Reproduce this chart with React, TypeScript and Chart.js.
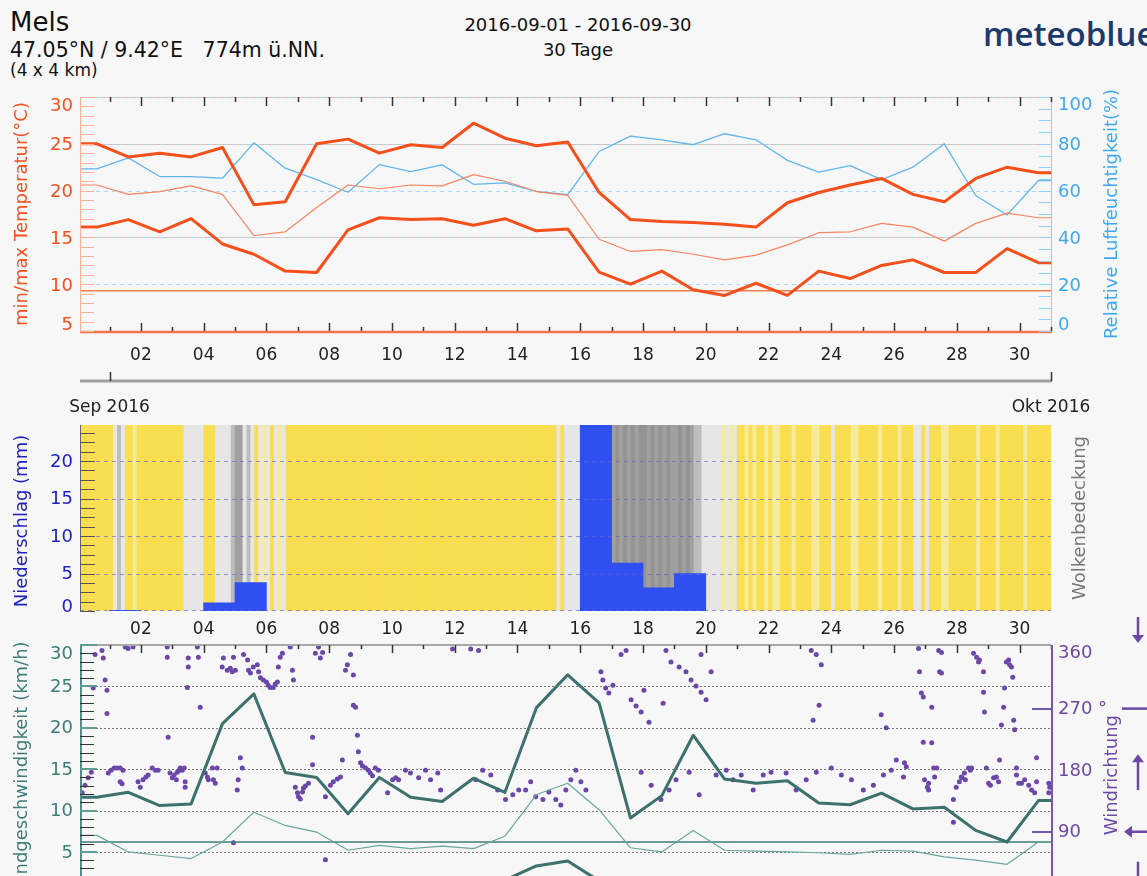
import React, { useEffect, useRef } from "react";
import { Chart, registerables } from "chart.js";

Chart.register(...registerables);

const FONT = "'DejaVu Sans', sans-serif";
const X_MIN = -0.94;
const X_MAX = 30;
const PLOT_LEFT = 80;
const PLOT_RIGHT = 1051;
const WIDTH = 1147;
const PX_PER_DAY = (PLOT_RIGHT - PLOT_LEFT) / (X_MAX - X_MIN);

// ---------- time axis (days since 2016-09-01 00:00) ----------
const dayTickValues = [0, 1, 2, 3, 4, 5, 6, 7, 8, 9, 10, 11, 12, 13, 14, 15, 16, 17, 18, 19, 20, 21, 22, 23, 24, 25, 26, 27, 28, 29, 30];
const dayLabelValues = [1, 3, 5, 7, 9, 11, 13, 15, 17, 19, 21, 23, 25, 27, 29];
const dayLabels = ["02", "04", "06", "08", "10", "12", "14", "16", "18", "20", "22", "24", "26", "28", "30"];
const dailyTimes = [-0.4, 0.6, 1.6, 2.6, 3.6, 4.6, 5.6, 6.6, 7.6, 8.6, 9.6, 10.6, 11.6, 12.6, 13.6, 14.6, 15.6, 16.6, 17.6, 18.6, 19.6, 20.6, 21.6, 22.6, 23.6, 24.6, 25.6, 26.6, 27.6, 28.6, 29.6];

// ---------- temperature / humidity ----------
const tempMax = [25.0, 23.6, 24.0, 23.6, 24.6, 18.5, 18.8, 25.0, 25.5, 24.0, 24.9, 24.6, 27.2, 25.6, 24.8, 25.2, 19.8, 16.9, 16.7, 16.6, 16.4, 16.1, 18.7, 19.8, 20.6, 21.3, 19.6, 18.8, 21.3, 22.5, 21.9];
const tempMean = [20.6, 19.6, 19.9, 20.5, 19.6, 15.2, 15.6, 18.2, 20.6, 20.2, 20.6, 20.5, 21.7, 21.0, 19.9, 19.5, 14.8, 13.5, 13.7, 13.2, 12.6, 13.1, 14.2, 15.5, 15.6, 16.5, 16.1, 14.6, 16.5, 17.6, 17.1];
const tempMin = [16.1, 16.9, 15.6, 17.0, 14.3, 13.2, 11.4, 11.25, 15.8, 17.1, 16.9, 17.0, 16.3, 17.0, 15.7, 15.9, 11.3, 10.0, 11.4, 9.4, 8.8, 10.1, 8.8, 11.4, 10.6, 12.0, 12.6, 11.25, 11.25, 13.8, 12.3];
const humidity = [69.3, 74.0, 66.0, 66.0, 65.3, 80.4, 69.6, 64.7, 59.3, 71.1, 68.1, 71.0, 62.7, 63.3, 59.7, 58.3, 76.7, 83.3, 81.7, 79.6, 84.3, 81.7, 72.9, 67.9, 70.7, 64.7, 70.0, 80.0, 57.9, 49.6, 64.3];
const tempRefLevel = 9.3;
const tempTickLabels = [5, 10, 15, 20, 25, 30];
const tempGridValues = [15, 25, 30];
const humTickLabels = [0, 20, 40, 60, 80, 100];
const humGridValues = [20, 40, 60, 80, 100];

// ---------- precipitation / cloud cover ----------
const precipDays = [1, 4, 5, 16, 17, 18, 19];
const precipMm = [0.1, 1.1, 3.8, 26, 6.4, 3.1, 5.0];
const precipTickLabels = [0, 5, 10, 15, 20];
// cloud class per 3 hours, one string per day from Aug 31 to Sep 30
const cloudCover3h = [
  "00000000", "02320010", "00000000", "00022222", "00022223", "44232021", "20212000",
  "00000000", "00000000", "00000000", "00000000", "00000000", "00000000", "00000000",
  "00000000", "00202222", "24444444", "45454545", "54545454", "45454332", "22221212",
  "00101001", "01100010", "00011000", "20000110", "00001000", "01000220", "20001100",
  "00000100", "00100000", "01000000",
];
const cloudColors = ["#f8de50", "#f6ea9c", "#e6e6e6", "#bdbdbd", "#a0a0a0", "#939393"];

// ---------- wind ----------
const windMax = [11.6, 12.2, 10.6, 10.8, 20.5, 24.1, 14.6, 14.0, 9.6, 14.0, 11.6, 11.1, 13.9, 12.2, 22.4, 26.4, 23.0, 9.1, 11.8, 19.1, 13.8, 13.3, 13.6, 10.9, 10.7, 12.1, 10.2, 10.4, 7.6, 6.2, 11.2];
const windMean = [7.0, 5.0, 4.6, 4.2, 6.2, 9.8, 8.2, 7.4, 5.2, 5.8, 5.4, 5.7, 5.4, 6.9, 11.9, 13.3, 10.1, 5.5, 5.0, 7.6, 5.2, 5.1, 5.0, 4.9, 4.7, 5.2, 5.1, 4.4, 4.0, 3.5, 6.2];
const windMin = [1.2, 1.0, 0.8, 0.9, 1.5, 1.5, 1.4, 1.3, 0.9, 1.2, 1.0, 1.1, 1.3, 1.6, 3.3, 3.9, 1.5, 1.0, 1.2, 1.5, 1.2, 1.1, 1.0, 0.9, 1.0, 1.1, 1.0, 0.9, 0.8, 0.7, 1.2];
const windRefLevel = 6.2;
const windTickLabels = [5, 10, 15, 20, 25, 30];
const windGridValues = [5, 10, 15, 20, 25];
const dirTickLabels = [90, 180, 270, 360];

const windDirTime = [
  -0.87, -0.78, -0.68, -0.58, -0.52, -0.46, -0.24, -0.2, -0.14, -0.08, -0.08, -0.04, 0.05, 0.15, 0.24, 0.34, 0.43, 0.34, 0.4, 0.5, 0.59, 0.75,
  0.91, 0.98, 1.07, 1.16, 1.23, 1.36, 1.46, 1.55, 1.84, 1.84, 1.87, 1.93, 2.0, 2.06, 2.13, 2.16, 2.22, 2.25, 2.32, 2.38, 2.41, 2.41, 2.48, 2.51, 2.51,
  2.8, 2.83, 2.89, 3.05, 3.12, 3.15, 3.28, 3.31, 3.37, 3.43, 3.59, 3.63, 3.75, 3.85, 3.91, 3.95, 4.01, 3.95, 4.07, 4.1, 4.17, 4.23, 4.27, 4.4, 4.43,
  4.49, 4.58, 4.71, 4.75, 4.81, 4.9, 5.0, 5.06, 5.12, 5.22, 5.28, 5.35, 5.38, 5.44, 5.51, 5.76, 5.83, 5.86, 5.92, 5.99, 6.02, 6.08, 6.15, 6.18, 6.24,
  6.34, 6.47, 6.47, 6.56, 6.66, 6.72, 6.79, 6.88, 6.88, 7.04, 7.13, 7.26, 7.36, 7.42, 7.52, 7.58, 7.68, 7.77, 7.77, 7.84, 7.9, 7.93, 8.0, 8.06, 8.16,
  8.25, 8.31, 8.38, 8.47, 8.57, 8.86, 9.02, 9.12, 9.21,
  9.43, 9.59, 9.85, 10.07, 10.23, 10.46, 10.55, 10.93, 11.51, 11.76, 11.67, 11.89, 12.15, 12.37, 12.62, 12.85, 13.04, 13.26, 13.42, 13.58, 13.81,
  14.0, 14.22, 14.38, 14.54, 14.7, 14.86, 15.02, 15.18, 15.66, 15.72, 15.81, 15.91, 16.04, 16.3, 16.46, 16.62, 16.78, 16.94, 17.03, 17.19, 17.64,
  17.73, 17.89, 18.15, 18.37, 18.53, 18.69, 18.85, 19.01, 19.17, 18.85, 16.94, 17.26, 17.57, 17.83, 18.05, 18.47, 18.79, 19.33, 19.65, 19.87, 20.13,
  20.51, 20.83, 21.08, 21.56, 21.88, 22.36, 22.52, 22.68, 22.42, 22.61, 22.2, 22.52, 23.0, 23.32, 23.64, 24.02, 24.34, 24.66, 24.91, 25.07, 24.59, 24.75,
  25.33, 25.39, 25.3, 25.78, 25.81, 25.87, 25.93, 25.93, 25.97, 26.1, 26.06, 26.1, 26.2, 26.2, 26.26, 26.36, 26.29, 26.42, 26.51, 26.45, 26.51,
  26.89, 26.89, 26.98, 27.08, 27.14, 27.24, 27.37, 27.17, 27.27, 27.43, 27.47, 27.53, 27.63, 27.72, 27.69, 27.85, 27.85, 27.88, 27.94, 28.01, 28.07,
  28.17, 28.26, 28.33, 28.42, 28.49, 28.52, 28.58, 28.65, 28.68, 28.74, 28.78, 28.81, 28.84, 28.36, 28.9, 28.9, 28.97, 29.06, 29.16, 29.29, 29.38,
  29.48, 29.54, 29.54, 29.93, 29.96, 29.93,
];
const windDirDeg = [
  147, 158, 169, 177, 300, 349, 355, 344, 312, 297, 263, 176, 180, 183, 183, 183, 180, 163, 160, 360, 358, 360,
  163, 155, 166, 170, 173, 183, 180, 180, 360, 345, 228, 176, 169, 173, 166, 177, 180, 183, 180, 183, 163, 155, 301, 331, 344,
  360, 345, 272, 176, 170, 166, 183, 166, 161, 183, 331, 344, 326, 329, 324, 345, 326, 74, 151, 166, 198, 183, 349, 341, 326,
  322, 331, 334, 324, 315, 312, 309, 304, 301, 301, 306, 309, 331, 345, 351, 360, 326, 312, 155, 147, 141, 138, 148, 154, 157,
  161, 188, 228, 351, 360, 344, 352, 141, 49, 158, 163, 167, 170, 195, 326, 334, 349, 319, 275, 272, 231, 207, 191, 186, 183,
  180, 176, 172, 183, 180, 147, 166, 169, 166,
  180, 176, 169, 180, 166, 176, 151, 357, 357, 355, 166, 180, 173, 151, 137, 144, 151, 151, 163, 141, 137,
  148, 137, 129, 151, 166, 180, 163, 151, 324, 312, 300, 293, 304, 349, 355, 283, 274, 265, 297, 250, 278,
  355, 338, 331, 324, 312, 303, 294, 283, 324, 349, 177, 158, 137, 151, 166, 177, 144, 173, 180, 166, 173,
  151, 173, 177, 176, 151, 355, 349, 334, 253, 275, 166, 177, 183, 173, 166, 151, 158, 173, 180, 195, 261, 242,
  191, 185, 170, 358, 324, 293, 221, 287, 166, 161, 155, 151, 272, 220, 183, 183, 170, 355, 352, 324, 322,
  137, 104, 155, 163, 170, 176, 183, 169, 166, 180, 183, 351, 345, 341, 338, 324, 294, 265, 183, 161, 158,
  169, 170, 163, 246, 272, 300, 338, 341, 334, 331, 316, 253, 239, 195, 183, 173, 161, 161, 166, 158, 151,
  147, 163, 198, 161, 155, 147,
];

// ---------- helpers ----------
function range(a: number, b: number, step: number): number[] {
  const out: number[] = [];
  for (let v = a; v <= b + 1e-9; v += step) out.push(Math.round(v * 1000) / 1000);
  return out;
}

function series(times: number[], values: number[]) {
  const pts = times.map((t, i) => ({ x: t, y: values[i] }));
  return [{ x: X_MIN, y: values[0] }, ...pts, { x: X_MAX, y: values[values.length - 1] }];
}

function fixBox(width?: number, height?: number) {
  return (s: any) => {
    if (width !== undefined) s.width = width;
    if (height !== undefined) s.height = height;
    s.paddingLeft = 0;
    s.paddingRight = 0;
    s.paddingTop = 0;
    s.paddingBottom = 0;
  };
}

function xAxis(height: number) {
  return {
    type: "linear",
    axis: "x",
    position: "bottom",
    min: X_MIN,
    max: X_MAX,
    offset: false,
    grid: { display: false, offset: false },
    border: { display: false },
    ticks: { display: false },
    afterFit: fixBox(undefined, height),
  };
}

function yAxis(position: string, min: number, max: number, width: number) {
  return {
    type: "linear",
    axis: "y",
    position,
    min,
    max,
    grid: { display: false },
    border: { display: false },
    ticks: { display: false },
    afterFit: fixBox(width, undefined),
  };
}

function hLine(ctx: CanvasRenderingContext2D, x1: number, x2: number, y: number) {
  ctx.beginPath();
  ctx.moveTo(x1, y);
  ctx.lineTo(x2, y);
  ctx.stroke();
}

function vLine(ctx: CanvasRenderingContext2D, x: number, y1: number, y2: number) {
  ctx.beginPath();
  ctx.moveTo(x, y1);
  ctx.lineTo(x, y2);
  ctx.stroke();
}

function txt(
  ctx: CanvasRenderingContext2D,
  s: string,
  x: number,
  y: number,
  size: number,
  color: string,
  align: CanvasTextAlign = "center",
  rotate = 0
) {
  ctx.save();
  ctx.translate(x, y);
  if (rotate) ctx.rotate(rotate);
  ctx.font = `${size}px ${FONT}`;
  ctx.fillStyle = color;
  ctx.textAlign = align;
  ctx.textBaseline = "middle";
  ctx.fillText(s, 0, 0);
  ctx.restore();
}

const snap = (v: number) => Math.round(v) + 0.5;

function dayTicks(ctx: CanvasRenderingContext2D, xs: any, y: number, dir: number, major: number, minor: number) {
  for (const v of dayTickValues) {
    const px = snap(xs.getPixelForValue(v));
    vLine(ctx, px, y, y + dir * (v % 2 === 1 ? major : minor));
  }
}

function dayLabelRow(ctx: CanvasRenderingContext2D, xs: any, y: number) {
  dayLabelValues.forEach((v, i) => txt(ctx, dayLabels[i], xs.getPixelForValue(v), y, 17, "#222"));
}

// ---------- plugins ----------
const topDecor = {
  id: "topDecor",
  beforeDatasetsDraw(chart: any) {
    const { ctx, chartArea: a, scales } = chart;
    ctx.save();
    ctx.lineWidth = 1;
    ctx.setLineDash([4, 4]);
    ctx.strokeStyle = "#a8d8f7";
    for (const v of humGridValues) hLine(ctx, a.left, a.right, snap(scales.yH.getPixelForValue(v)));
    ctx.lineDashOffset = 4;
    ctx.strokeStyle = "#f9b59b";
    for (const v of tempGridValues) hLine(ctx, a.left, a.right, snap(scales.yT.getPixelForValue(v)));
    ctx.restore();
  },
  afterDatasetsDraw(chart: any) {
    const { ctx, chartArea: a, scales } = chart;
    const xs = scales.x, yT = scales.yT, yH = scales.yH;
    ctx.save();
    ctx.lineWidth = 1;
    ctx.strokeStyle = "#f8b29a";
    vLine(ctx, snap(a.left), a.top, a.bottom);
    ctx.strokeStyle = "#8fcdf5";
    vLine(ctx, snap(a.right), a.top, a.bottom);
    ctx.lineWidth = 2.5;
    ctx.strokeStyle = "#f7734a";
    hLine(ctx, a.left, a.right + 1, a.bottom + 1);
    ctx.lineWidth = 1;
    ctx.strokeStyle = "#f8b29a";
    for (const v of range(5, 30, 1)) hLine(ctx, a.left, a.left + 14, snap(yT.getPixelForValue(v)));
    ctx.strokeStyle = "#92cff5";
    for (const v of range(0, 100, 5)) hLine(ctx, a.right - 12, a.right, snap(yH.getPixelForValue(v)));
    ctx.strokeStyle = "#333";
    ctx.lineWidth = 1.5;
    dayTicks(ctx, xs, a.top, 1, 9, 5);
    dayTicks(ctx, xs, a.bottom, -1, 8, 4);
    for (const v of tempTickLabels) {
      const off = v === 30 ? 9 : v === 5 ? -6 : 2;
      txt(ctx, String(v), 73, yT.getPixelForValue(v) + off, 18, "#f4511e", "right");
    }
    for (const v of humTickLabels) {
      const off = v === 100 ? 8 : v === 0 ? -6 : 2;
      txt(ctx, String(v), 1058, yH.getPixelForValue(v) + off, 18, "#3fa9f0", "left");
    }
    const midY = (a.top + a.bottom) / 2;
    txt(ctx, "min/max Temperatur(°C)", 22, midY, 18, "#f4511e", "center", -Math.PI / 2);
    txt(ctx, "Relative Luftfeuchtigkeit(%)", 1112, midY, 18, "#3fa9f0", "center", -Math.PI / 2);
    dayLabelRow(ctx, xs, a.bottom + 25);
    const x0 = xs.getPixelForValue(0);
    const x1 = xs.getPixelForValue(30);
    ctx.strokeStyle = "#a0a0a0";
    ctx.lineWidth = 3;
    hLine(ctx, a.left, x1 + 1, a.bottom + 50);
    ctx.strokeStyle = "#333";
    ctx.lineWidth = 1.5;
    vLine(ctx, snap(x0), a.bottom + 41, a.bottom + 50);
    vLine(ctx, snap(x1), a.bottom + 41, a.bottom + 50);
    txt(ctx, "Sep 2016", x0, a.bottom + 77, 17, "#222");
    txt(ctx, "Okt 2016", x1, a.bottom + 77, 17, "#222");
    ctx.restore();
  },
};

const midDecor = {
  id: "midDecor",
  afterDatasetsDraw(chart: any) {
    const { ctx, chartArea: a, scales } = chart;
    const xs = scales.x, yP = scales.yP;
    ctx.save();
    ctx.lineWidth = 1;
    ctx.setLineDash([4, 4]);
    ctx.strokeStyle = "rgba(100,100,210,0.65)";
    for (const v of precipTickLabels) hLine(ctx, a.left, a.right, snap(yP.getPixelForValue(v)) - (v === 0 ? 1 : 0));
    ctx.setLineDash([]);
    ctx.strokeStyle = "#666";
    vLine(ctx, snap(a.left), a.top, a.bottom);
    ctx.strokeStyle = "#555";
    for (const v of range(0, 23.75, 1.25)) hLine(ctx, a.left, a.left + 15, snap(yP.getPixelForValue(v)));
    for (const v of precipTickLabels) {
      const off = v === 0 ? -4 : 1;
      txt(ctx, String(v), 73, yP.getPixelForValue(v) + off, 18, "#2222c0", "right");
    }
    const midY = (a.top + a.bottom) / 2;
    txt(ctx, "Niederschlag (mm)", 22, midY + 3, 18, "#2222c0", "center", -Math.PI / 2);
    txt(ctx, "Wolkenbedeckung", 1080, midY, 18, "#777", "center", -Math.PI / 2);
    dayLabelRow(ctx, xs, a.bottom + 19);
    ctx.restore();
  },
};

function arrowHead(ctx: CanvasRenderingContext2D, x: number, y: number, dx: number, dy: number) {
  ctx.beginPath();
  ctx.moveTo(x, y);
  ctx.lineTo(x - dx * 8 - dy * 6, y - dy * 8 - dx * 6);
  ctx.lineTo(x - dx * 8 + dy * 6, y - dy * 8 + dx * 6);
  ctx.closePath();
  ctx.fill();
}

const windDecor = {
  id: "windDecor",
  beforeDatasetsDraw(chart: any) {
    const { ctx, chartArea: a, scales } = chart;
    ctx.save();
    ctx.lineWidth = 1;
    ctx.setLineDash([2, 2]);
    ctx.strokeStyle = "#777";
    for (const v of windGridValues) hLine(ctx, a.left, a.right, snap(scales.yS.getPixelForValue(v)));
    ctx.restore();
  },
  afterDatasetsDraw(chart: any) {
    const { ctx, chartArea: a, scales } = chart;
    const xs = scales.x, yS = scales.yS, yD = scales.yD;
    ctx.save();
    ctx.strokeStyle = "#a8a8a8";
    ctx.lineWidth = 2;
    hLine(ctx, a.left, a.right, a.top);
    ctx.strokeStyle = "#333";
    ctx.lineWidth = 1.5;
    dayTicks(ctx, xs, a.top, 1, 8, 4);
    ctx.strokeStyle = "#4f8f8a";
    ctx.lineWidth = 2;
    vLine(ctx, a.left + 1, a.top, a.bottom);
    ctx.lineWidth = 1;
    ctx.strokeStyle = "#333";
    for (const v of range(1, 29, 1)) if (v % 5 !== 0) hLine(ctx, a.left, a.left + 14, snap(yS.getPixelForValue(v)));
    ctx.strokeStyle = "#5f9d97";
    ctx.lineWidth = 2;
    for (const v of range(5, 30, 5)) hLine(ctx, a.left, a.left + 17, Math.round(yS.getPixelForValue(v)));
    for (const v of windTickLabels) {
      const off = v === 30 ? 9 : 1;
      txt(ctx, String(v), 73, yS.getPixelForValue(v) + off, 18, "#3d7d78", "right");
    }
    const midY = (a.top + a.bottom) / 2;
    txt(ctx, "Windgeschwindigkeit (km/h)", 22, midY, 18, "#3d7d78", "center", -Math.PI / 2);
    ctx.strokeStyle = "#7657ad";
    ctx.lineWidth = 2;
    vLine(ctx, a.right + 1, a.top, a.bottom);
    for (const v of [90, 270]) hLine(ctx, a.right - 19, a.right + 1, Math.round(yD.getPixelForValue(v)));
    for (const v of dirTickLabels) {
      const off = v === 360 ? 6 : 1;
      txt(ctx, v === 270 ? "270 °" : String(v), 1058, yD.getPixelForValue(v) + off, 18, "#6a4aa5", "left");
    }
    txt(ctx, "Windrichtung", 1112, midY + 6, 18, "#6a4aa5", "center", -Math.PI / 2);
    ctx.strokeStyle = "#6a4aa5";
    ctx.fillStyle = "#6a4aa5";
    ctx.lineWidth = 2.5;
    const ax = 1138;
    const y270 = yD.getPixelForValue(270);
    hLine(ctx, 1122, 1150, y270);
    const y90 = yD.getPixelForValue(90);
    hLine(ctx, 1130, 1150, y90);
    arrowHead(ctx, 1124, y90, -1, 0);
    const y180 = yD.getPixelForValue(180);
    vLine(ctx, ax, y180 - 10, y180 + 20);
    arrowHead(ctx, ax, y180 - 16, 0, -1);
    const y360 = yD.getPixelForValue(360);
    vLine(ctx, ax, y360 - 30, y360 - 8);
    arrowHead(ctx, ax, y360 - 4, 0, 1);
    vLine(ctx, ax, y90 + 30, y90 + 60);
    ctx.restore();
  },
};

// ---------- component ----------
function useChart(ref: React.RefObject<HTMLCanvasElement>, build: () => any) {
  useEffect(() => {
    if (!ref.current) return;
    const chart = new Chart(ref.current, build());
    return () => chart.destroy();
  }, []);
}

const baseOptions = (padTop: number) => ({
  responsive: false,
  maintainAspectRatio: false,
  animation: false,
  events: [],
  layout: { padding: { top: padTop, left: 0, right: 0, bottom: 0 } },
  plugins: { legend: { display: false }, tooltip: { enabled: false } },
  elements: {
    point: { radius: 0 },
    line: { tension: 0, borderJoinStyle: "round", borderCapStyle: "butt" },
  },
});

export default function App() {
  const topRef = useRef<HTMLCanvasElement>(null);
  const midRef = useRef<HTMLCanvasElement>(null);
  const windRef = useRef<HTMLCanvasElement>(null);

  useEffect(() => {
    document.body.style.margin = "0";
    document.body.style.background = "#f7f7f7";
    document.documentElement.style.overflow = "hidden";
  }, []);

  useChart(topRef, () => ({
    type: "line",
    data: {
      datasets: [
        { label: "max", data: series(dailyTimes, tempMax), yAxisID: "yT", borderColor: "#f4501c", borderWidth: 3, order: 1 },
        { label: "min", data: series(dailyTimes, tempMin), yAxisID: "yT", borderColor: "#f4501c", borderWidth: 3, order: 2 },
        { label: "mean", data: series(dailyTimes, tempMean), yAxisID: "yT", borderColor: "#f78660", borderWidth: 1.2, order: 3 },
        { label: "humidity", data: series(dailyTimes, humidity), yAxisID: "yH", borderColor: "#62b6ee", borderWidth: 1.3, order: 4 },
        { label: "ref", data: [{ x: X_MIN, y: tempRefLevel }, { x: X_MAX, y: tempRefLevel }], yAxisID: "yT", borderColor: "#f57d52", borderWidth: 1.5, order: 5 },
      ],
    },
    options: {
      ...baseOptions(7),
      scales: { x: xAxis(89), yT: yAxis("left", 5, 30, 80), yH: yAxis("right", 0, 100, 96) },
    },
    plugins: [topDecor],
  }));

  useChart(midRef, () => {
    const cloudData: any[] = [];
    const cloudCols: string[] = [];
    cloudCover3h.forEach((day, d) => {
      day.split("").forEach((c, j) => {
        cloudData.push({ x: d - 1 + (j + 0.5) / 8, y: [0, 30] });
        cloudCols.push(cloudColors[Number(c)]);
      });
    });
    return {
      type: "bar",
      data: {
        datasets: [
          {
            label: "Niederschlag",
            data: precipDays.map((d, i) => ({ x: d - 0.5, y: precipMm[i] })),
            yAxisID: "yP",
            backgroundColor: "#2f4ff0",
            barThickness: PX_PER_DAY,
            grouped: false,
            borderWidth: 0,
            order: 1,
          },
          {
            label: "Wolkenbedeckung",
            data: cloudData,
            yAxisID: "yP",
            backgroundColor: cloudCols,
            barThickness: PX_PER_DAY / 8,
            grouped: false,
            borderWidth: 0,
            order: 2,
          },
        ],
      },
      options: {
        ...baseOptions(5),
        scales: { x: xAxis(34), yP: yAxis("left", 0, 24.8, 80), yC: yAxis("right", 0, 100, 96) },
      },
      plugins: [midDecor],
    };
  });

  useChart(windRef, () => ({
    type: "line",
    data: {
      datasets: [
        { label: "max", data: series(dailyTimes, windMax), yAxisID: "yS", borderColor: "#3d716c", borderWidth: 3, order: 1 },
        { label: "min", data: series(dailyTimes, windMin), yAxisID: "yS", borderColor: "#3d716c", borderWidth: 3, order: 2 },
        { label: "mean", data: series(dailyTimes, windMean), yAxisID: "yS", borderColor: "#6aa69e", borderWidth: 1.2, order: 3 },
        { label: "ref", data: [{ x: X_MIN, y: windRefLevel }, { x: X_MAX, y: windRefLevel }], yAxisID: "yS", borderColor: "#3f7c76", borderWidth: 1.5, order: 4 },
        {
          label: "Windrichtung",
          data: windDirTime.map((t, i) => ({ x: t, y: windDirDeg[i] })),
          yAxisID: "yD",
          showLine: false,
          pointRadius: 2.5,
          pointBackgroundColor: "#6b48a8",
          pointBorderWidth: 0,
          order: 10,
        },
      ],
    },
    options: {
      ...baseOptions(30),
      scales: { x: xAxis(26.7), yS: yAxis("left", 0, 30, 80), yD: yAxis("right", 0, 363, 96) },
    },
    plugins: [windDecor],
  }));

  const abs = (top: number): React.CSSProperties => ({ position: "absolute", left: 0, top });

  return (
    <div style={{ position: "absolute", left: 0, top: 0, width: WIDTH, height: 876, overflow: "hidden", background: "#f7f7f7", fontFamily: FONT, color: "#111" }}>
      <div style={{ position: "absolute", left: 10, top: 9, fontSize: 26, lineHeight: 1 }}>Mels</div>
      <div style={{ position: "absolute", left: 10, top: 40, fontSize: 20.5, lineHeight: 1, whiteSpace: "pre" }}>47.05°N / 9.42°E   774m ü.NN.</div>
      <div style={{ position: "absolute", left: 10, top: 62, fontSize: 17, lineHeight: 1 }}>(4 x 4 km)</div>
      <div style={{ position: "absolute", left: 378, width: 400, top: 16, fontSize: 18, lineHeight: 1, textAlign: "center" }}>2016-09-01 - 2016-09-30</div>
      <div style={{ position: "absolute", left: 378, width: 400, top: 41, fontSize: 18, lineHeight: 1, textAlign: "center" }}>30 Tage</div>
      <div style={{ position: "absolute", left: 983, top: 17, fontSize: 33, lineHeight: 1, fontWeight: 600, fontFamily: "'Open Sans', 'DejaVu Sans', sans-serif", color: "#1c3a6b", whiteSpace: "pre" }}>meteoblue</div>
      <canvas ref={topRef} width={WIDTH} height={330} style={abs(90)} />
      <canvas ref={midRef} width={WIDTH} height={225} style={abs(420)} />
      <canvas ref={windRef} width={WIDTH} height={305} style={abs(615)} />
    </div>
  );
}
